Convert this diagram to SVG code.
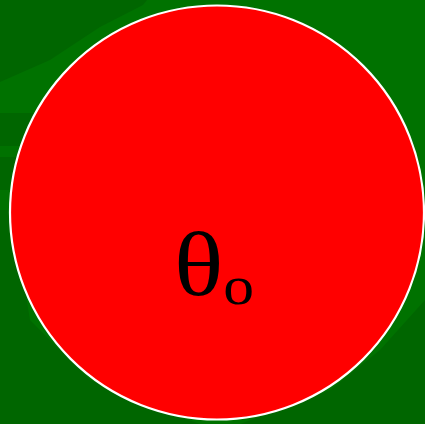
<svg xmlns="http://www.w3.org/2000/svg" width="425" height="424" viewBox="0 0 425 424">
<style>
.bg{fill:#007200}
.dk{fill:#006600}
.node{fill:#ff0000;stroke:#ffffff;stroke-width:2.2}
.lbl{font-family:"Liberation Serif","DejaVu Serif",serif;fill:#000000}
</style>
<rect class="bg" x="0" y="0" width="425" height="424"/>
<path class="dk" d="M0,0 L147,0 L143,5 L100,27 L50,60 L0,82 Z"/>
<path class="dk" d="M0,113 L70,113 L40,146 L0,146 Z"/>
<path class="dk" d="M0,157 L35,157 L20,190 L0,190 Z"/>
<path class="dk" d="M0,210 L12,210 L30,320 L90,380 L160,410 L200,424 L0,424 Z"/>
<path class="dk" d="M425,300 L425,424 L240,424 L330,390 L380,350 Z"/>
<g id="node-theta">
<circle class="node" cx="217" cy="212.5" r="207"/>
<text class="lbl" x="174" y="295" font-size="92" transform="translate(174 295) scale(1.12 1) translate(-174 -295)">θ<tspan font-size="55" dy="9">o</tspan></text>
</g>
</svg>
